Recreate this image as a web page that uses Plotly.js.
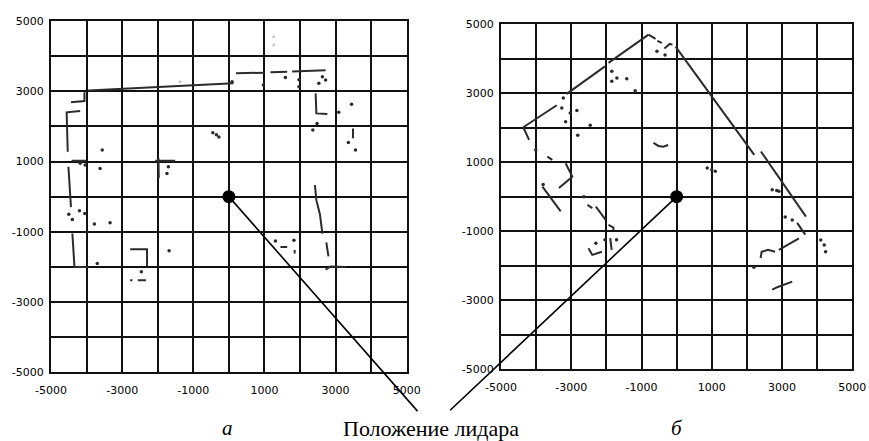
<!DOCTYPE html>
<html>
<head>
<meta charset="utf-8">
<script src="https://cdn.plot.ly/plotly-3.0.1.min.js"></script>
<style>
  html, body { margin: 0; padding: 0; background: #fff; }
  #chart { width: 869px; height: 441px; }
</style>
</head>
<body>
<div id="chart"></div>
<script>
// ---- axis ticks ----
const tickVals = [-5000, -4000, -3000, -2000, -1000, 0, 1000, 2000, 3000, 4000, 5000];
const tickText = ['-5000', '', '-3000', '', '-1000', '', '1000', '', '3000', '', '5000'];

// ---- lidar position ----
const lidarX = [0];
const lidarY = [0];

// ---- scan (a): wall segments (null separates segments) ----
const wallAX = [
  -3950, 130, null,
  200, 1000, null, 1170, 1640, null, 1780, 2720, null,
  -4060, -4060, -4440, null,
  -4180, -4560, -4530, null,
  -4420, -4000, null,
  -4510, -4440, null,
  -4400, -4340, -3950, null,
  2440, 2460, 2770, null,
  -2070, -1510, null, -1980, -1970, null,
  -2775, -2300, -2300, null,
  -2775, -2710, null, -2560, -2330, null,
  3490, 3490, null,
  2420, 2460, 2560, 2630, null,
  2740, 2800, null,
  2720, 2850, 3280, null,
  1450, 1640, null, 1850, 1850
];
const wallAY = [
  3020, 3230, null,
  3510, 3530, null, 3540, 3555, null, 3560, 3600, null,
  2970, 2720, 2690, null,
  2440, 2400, 1280, null,
  1020, 1020, null,
  850, -300, null,
  -1050, -2000, -2000, null,
  2940, 2370, 2350, null,
  1020, 1020, null, 1100, 530, null,
  -1500, -1500, -1980, null,
  -2380, -2380, null, -2380, -2380, null,
  1940, 1660, null,
  330, -100, -500, -1050, null,
  -1300, -1700, null,
  -2080, -1990, -2000, null,
  -1430, -1430, null, -1520, -1620
];
// ---- scan (a): isolated points ----
const dotAX = [-3560, -3620, -4180, -4040, -1700, -1740, -450, -350, -280, 90, 970, 1590, 1970, 1970, 2530, 2630, 2720,
  3090, 3450, 2480, 2360, 3360, 3560, -4500, -4400, -4200, -4050, -3780, -3340, -3700, -2460, -1680, 1310, 1830];
const dotAY = [1330, 800, 950, 900, 850, 660, 1820, 1760, 1700, 3270, 3180, 3390, 3330, 3130, 3230, 3410, 3320,
  2400, 2630, 2080, 1900, 1540, 1330, -500, -650, -400, -480, -780, -740, -1900, -2140, -1540, -1260, -1240];
const faintAX = [-1370, 1260, 1260];
const faintAY = [3270, 4550, 4320];

// ---- scan (б): wall segments ----
const wallBX = [
  -4365, -3413, null, -3130, -2040, null, -1940, -800, null,
  -800, -600, null, -550, -420, null,
  -350, -200, -120, null,
  -30, 2210, null, 2400, 3680, null,
  -4365, -4200, null, -3680, -3540, null, -3160, -2970, -3350, null,
  -3820, -3300, null,
  -2540, -2400, null, -2300, -2020, null,
  -1940, -1800, -1800, null,
  -2510, -2400, -2130, null,
  -1890, -1850, null,
  3430, 3660, null, 3480, 2910, null,
  2390, 2420, 2600, 2800, null,
  2720, 2880, 3290, null,
  -660, -520, -380, -240
];
const wallBY = [
  2013, 2651, null, 2980, 3780, null, 3880, 4700, null,
  4700, 4580, null, 4520, 4460, null,
  4300, 4430, 4410, null,
  4350, 1210, null, 1310, -580, null,
  2013, 1645, null, 1160, 1065, null, 970, 580, 250, null,
  290, -430, null,
  -240, -335, null, -290, -675, null,
  -820, -900, -965, null,
  -1500, -1690, -1600, null,
  -1200, -1545, null,
  -760, -1100, null, -1210, -1545, null,
  -1780, -1600, -1545, -1600, null,
  -2700, -2620, -2465, null,
  1560, 1470, 1450, 1500
];
// ---- scan (б): isolated points ----
const dotBX = [-4011, -3225, -3270, -3030, -2840, -3160, -2460, -2815, -1846, -1846, -1700, -1420, -1180, -560, -330,
  -2640, -3800, 870, 1000, 1100, 2720, 2850, 2910, 3090, 3290, 2200, 4100, 4240, 4200, -2300, -2040, -1710];
const dotBY = [1355, 2863, 2570, 2430, 2500, 2170, 2070, 1780, 3637, 3347, 3440, 3420, 3070, 4220, 4110,
  0, 350, 830, 780, 740, 200, 180, 160, -590, -680, -2050, -1260, -1600, -1400, -1350, -1250, -1250];

// ---- labels ----
const captionText = 'Положение лидара';
const panelLabels = ['а', 'б'];

const wallStyle = {color: '#2b2b2b', width: 2};
const dotStyle = {color: '#2b2b2b', size: 3.5};

const traces = [
  {x: wallAX, y: wallAY, xaxis: 'x', yaxis: 'y', mode: 'lines', line: wallStyle, connectgaps: false, hoverinfo: 'skip'},
  {x: dotAX, y: dotAY, xaxis: 'x', yaxis: 'y', mode: 'markers', marker: dotStyle, hoverinfo: 'skip'},
  {x: faintAX, y: faintAY, xaxis: 'x', yaxis: 'y', mode: 'markers', marker: {color: '#c8c8c8', size: 3}, hoverinfo: 'skip'},
  {x: lidarX, y: lidarY, xaxis: 'x', yaxis: 'y', mode: 'markers', marker: {color: '#000', size: 13}, hoverinfo: 'skip'},
  {x: wallBX, y: wallBY, xaxis: 'x2', yaxis: 'y2', mode: 'lines', line: wallStyle, connectgaps: false, hoverinfo: 'skip'},
  {x: dotBX, y: dotBY, xaxis: 'x2', yaxis: 'y2', mode: 'markers', marker: dotStyle, hoverinfo: 'skip'},
  {x: lidarX, y: lidarY, xaxis: 'x2', yaxis: 'y2', mode: 'markers', marker: {color: '#000', size: 13}, hoverinfo: 'skip'}
];

const tickFont = {family: 'DejaVu Sans, sans-serif', size: 11, color: '#000'};
function axis(domain, anchor, standoff) {
  return {
    domain: domain, anchor: anchor, range: [-5000, 5000],
    tickmode: 'array', tickvals: tickVals, ticktext: tickText,
    showgrid: true, gridcolor: '#111', gridwidth: 2,
    zeroline: false, showline: true, linecolor: '#111', linewidth: 2, mirror: true,
    ticks: '', tickfont: tickFont, ticklabelstandoff: standoff, fixedrange: true
  };
}

const layout = {
  width: 869, height: 441,
  margin: {l: 0, r: 0, t: 0, b: 0},
  paper_bgcolor: '#fff', plot_bgcolor: '#fff',
  showlegend: false,
  xaxis: axis([0.0587, 0.468], 'y', 7),
  yaxis: axis([0.1558, 0.9524], 'x', 3),
  xaxis2: axis([0.5765, 0.9808], 'y2', 7),
  yaxis2: axis([0.1633, 0.9449], 'x2', 3),
  annotations: [
    {x: lidarX[0], y: lidarY[0], xref: 'x', yref: 'y', text: '', showarrow: true, arrowhead: 0,
     arrowwidth: 1.6, arrowcolor: '#000', ax: 190, ay: 216, standoff: 0, startstandoff: 0},
    {x: lidarX[0], y: lidarY[0], xref: 'x2', yref: 'y2', text: '', showarrow: true, arrowhead: 0,
     arrowwidth: 1.6, arrowcolor: '#000', ax: -228, ay: 215, standoff: 0, startstandoff: 0},
    {x: 0.4955, y: 0.028, xref: 'paper', yref: 'paper', text: captionText, showarrow: false,
     xanchor: 'center', yanchor: 'middle', font: {family: 'Liberation Serif, serif', size: 22, color: '#000'}},
    {x: 0.262, y: 0.03, xref: 'paper', yref: 'paper', text: '<i>' + panelLabels[0] + '</i>', showarrow: false,
     xanchor: 'center', yanchor: 'middle', font: {family: 'Liberation Serif, serif', size: 21, color: '#000'}},
    {x: 0.779, y: 0.03, xref: 'paper', yref: 'paper', text: '<i>' + panelLabels[1] + '</i>', showarrow: false,
     xanchor: 'center', yanchor: 'middle', font: {family: 'Liberation Serif, serif', size: 21, color: '#000'}}
  ]
};

Plotly.newPlot('chart', traces, layout, {staticPlot: true, displayModeBar: false});
</script>
</body>
</html>
